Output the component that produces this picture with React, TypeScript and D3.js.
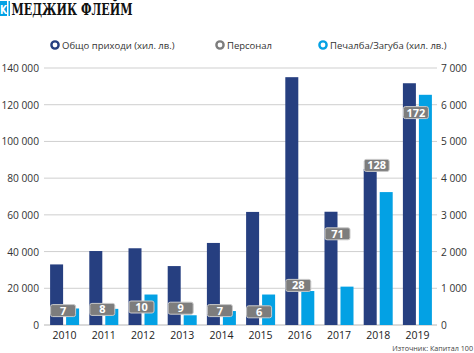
import { useEffect, useRef } from "react";
import * as d3 from "d3";

// data
const years = ["2010", "2011", "2012", "2013", "2014", "2015", "2016", "2017", "2018", "2019"];
const revenue = [33000, 40300, 41800, 32100, 44700, 61600, 135000, 61700, 85000, 131700];
const profit = [450, 440, 830, 265, 380, 830, 925, 1045, 3620, 6270];
const staff = [7, 8, 10, 9, 7, 6, 28, 71, 128, 172];
const leftTicks = [0, 20000, 40000, 60000, 80000, 100000, 120000, 140000];
const rightTicks = [0, 1000, 2000, 3000, 4000, 5000, 6000, 7000];

const DARK = "#263f80";
const LIGHT = "#03a1e4";
const GREY = "#7d7d7d";
const FONT = "'Open Sans', sans-serif";

export default function App() {
  const ref = useRef<SVGSVGElement>(null);
  const width = 474;
  const height = 353;

  useEffect(() => {
    if (!ref.current) return;
    const svg = d3.select(ref.current);
    svg.selectAll("*").remove();

    const top = 68;
    const bottom = 325;
    const left = 45;
    const right = 437;

    const x = d3.scaleBand().domain(years).range([left, right]).padding(0);
    const yL = d3.scaleLinear().domain([0, 140000]).range([bottom, top]);
    const yR = d3.scaleLinear().domain([0, 7000]).range([bottom, top]);
    const yP = d3.scaleLinear().domain([0, 200]).range([319, 79]);
    const fmt = (d: number) => d3.format(",")(d).replace(/,/g, " ");

    // header
    svg.append("rect").attr("x", 0).attr("y", 1).attr("width", 7).attr("height", 15).attr("fill", LIGHT);
    svg.append("text").attr("x", 0).attr("y", 13.5)
      .attr("textLength", 7).attr("lengthAdjust", "spacingAndGlyphs")
      .style("font-family", "'DejaVu Sans', sans-serif").style("font-weight", "bold")
      .style("font-size", "13px").style("fill", "#fff").text("K");
    svg.append("rect").attr("x", 8.5).attr("y", 1).attr("width", 1.5).attr("height", 15).attr("fill", LIGHT);
    svg.append("text").attr("x", 11.5).attr("y", 14.5)
      .attr("textLength", 121).attr("lengthAdjust", "spacingAndGlyphs")
      .style("font-family", "'DejaVu Serif', serif").style("font-weight", "bold")
      .style("font-size", "16px").style("fill", "#111").text("МЕДЖИК ФЛЕЙМ");

    // legend
    const legend = [
      { label: "Общо приходи (хил. лв.)", color: DARK, x: 55 },
      { label: "Персонал", color: GREY, x: 220 },
      { label: "Печалба/Загуба (хил. лв.)", color: LIGHT, x: 323 },
    ];
    const lg = svg.append("g").selectAll("g").data(legend).enter().append("g");
    lg.append("circle").attr("cx", d => d.x).attr("cy", 45).attr("r", 3.6)
      .attr("fill", "#fff").attr("stroke", d => d.color).attr("stroke-width", 2.4);
    lg.append("text").attr("x", d => d.x + 7).attr("y", 48.5)
      .style("font-family", FONT).style("font-size", "9.5px").style("fill", "#333")
      .text(d => d.label);

    // grid
    svg.append("g").selectAll("line").data(leftTicks).enter().append("line")
      .attr("x1", left - 1).attr("x2", right).attr("y1", d => yL(d)).attr("y2", d => yL(d))
      .attr("stroke", d => (d === 0 ? "#b5b5b5" : "#cfcfcf")).attr("stroke-width", 1);

    // left axis labels
    svg.append("g").selectAll("text").data(leftTicks).enter().append("text")
      .attr("x", 39).attr("y", d => yL(d) + 4).attr("text-anchor", "end")
      .style("font-family", FONT).style("font-size", "10.2px").style("fill", "#333")
      .text(d => fmt(d));

    // right axis labels
    svg.append("g").selectAll("text").data(rightTicks).enter().append("text")
      .attr("x", 441).attr("y", d => yR(d) + 4).attr("text-anchor", "start")
      .style("font-family", FONT).style("font-size", "10.2px").style("fill", "#333")
      .text(d => fmt(d));

    const bw = 13;
    const g = svg.append("g");
    // revenue bars
    g.selectAll(".rev").data(years).enter().append("rect")
      .attr("x", d => x(d)! + x.bandwidth() / 2 - bw - 1.5)
      .attr("y", (d, i) => yL(revenue[i]))
      .attr("width", bw)
      .attr("height", (d, i) => bottom - yL(revenue[i]))
      .attr("fill", DARK);
    // profit bars
    g.selectAll(".prof").data(years).enter().append("rect")
      .attr("x", d => x(d)! + x.bandwidth() / 2 + 1.5)
      .attr("y", (d, i) => yR(profit[i]))
      .attr("width", bw)
      .attr("height", (d, i) => bottom - yR(profit[i]))
      .attr("fill", LIGHT);

    // staff labels
    const sl = g.selectAll(".staff").data(years).enter().append("g");
    sl.append("rect")
      .attr("x", d => x(d)! + x.bandwidth() / 2 - 14)
      .attr("y", (d, i) => yP(staff[i]) - 6)
      .attr("width", 25).attr("height", 12).attr("rx", 2)
      .attr("fill", GREY).attr("stroke", "#c9c9c9").attr("stroke-width", 1);
    sl.append("text")
      .attr("x", d => x(d)! + x.bandwidth() / 2 - 1.5)
      .attr("y", (d, i) => yP(staff[i]) + 4)
      .attr("text-anchor", "middle")
      .style("font-family", FONT).style("font-weight", "bold")
      .style("font-size", "11px").style("fill", "#fff")
      .text((d, i) => staff[i]);

    // year labels
    svg.append("g").selectAll("text").data(years).enter().append("text")
      .attr("x", d => x(d)! + x.bandwidth() / 2)
      .attr("y", 339).attr("text-anchor", "middle")
      .style("font-family", FONT).style("font-size", "10.5px").style("fill", "#222")
      .text(d => d);

    // source
    svg.append("text").attr("x", 473).attr("y", 351).attr("text-anchor", "end")
      .style("font-family", FONT).style("font-size", "7.2px").style("fill", "#444")
      .text("Източник: Капитал 100");
  }, []);

  return (
    <svg ref={ref} width={width} height={height}
      style={{ position: "absolute", left: 0, top: 0, background: "#fff" }} />
  );
}
